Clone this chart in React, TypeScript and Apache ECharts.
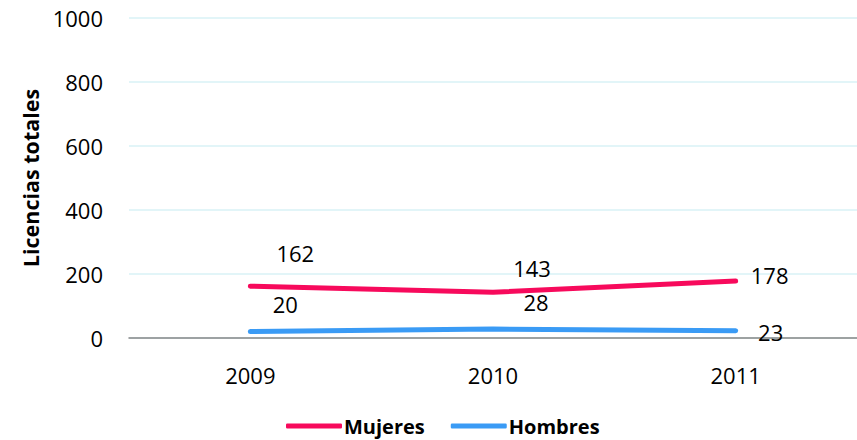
import React, { useEffect, useRef } from "react";
import * as echarts from "echarts";

const categories = ["2009", "2010", "2011"];
const mujeres = [162, 143, 178];
const hombres = [20, 28, 23];
const mujeresLabelOffsets = [[45, -33], [39, -24], [34, -6]];
const hombresLabelOffsets = [[35, -28], [43, -27], [35, 1]];

const FONT = "'Open Sans', 'Liberation Sans', sans-serif";
const PINK = "#F70A5C";
const BLUE = "#3A9BF5";

export default function App() {
  const ref = useRef<HTMLDivElement>(null);
  useEffect(() => {
    document.body.style.margin = "0";
    const chart = echarts.init(ref.current!, undefined, { renderer: "svg" });
    const mk = (vals: number[], offs: number[][]) =>
      vals.map((v, i) => ({
        value: v,
        label: { offset: offs[i] },
      }));
    chart.setOption({
      animation: false,
      backgroundColor: "#fff",
      grid: { left: 129, top: 18, width: 750, bottom: 102, containLabel: false },
      xAxis: {
        type: "category",
        data: categories,
        boundaryGap: true,
        axisLine: { lineStyle: { color: "#868686", width: 1.5 } },
        axisTick: { show: false },
        axisLabel: { color: "#000", fontSize: 22, fontFamily: FONT, margin: 26 },
      },
      yAxis: {
        type: "value",
        min: 0,
        max: 1000,
        interval: 200,
        name: "Licencias totales",
        nameLocation: "middle",
        nameGap: 87,
        nameRotate: 90,
        nameTextStyle: { color: "#000", fontSize: 21.5, fontWeight: "bold", fontFamily: FONT },
        axisLine: { show: false },
        axisTick: { show: false },
        axisLabel: {
          color: "#000",
          fontSize: 22,
          fontFamily: FONT,
          margin: 26,
          formatter: (v: number) => String(v),
        },
        splitLine: { lineStyle: { color: "#D8F2F6", width: 1.5 } },
      },
      legend: {
        left: 281,
        top: 411,
        itemWidth: 56,
        itemHeight: 5,
        itemGap: 26,
        icon: "roundRect",
        textStyle: { color: "#000", fontSize: 20, fontWeight: "bold", fontFamily: FONT, padding: [0, 0, 0, -3] },
        data: ["Mujeres", "Hombres"],
      },
      series: [
        {
          name: "Mujeres",
          type: "line",
          data: mk(mujeres, mujeresLabelOffsets),
          symbol: "circle",
          symbolSize: 1,
          itemStyle: { color: PINK },
          lineStyle: { color: PINK, width: 5, cap: "round" },
          label: { show: true, position: "inside", color: "#000", fontSize: 22, fontFamily: FONT },
        },
        {
          name: "Hombres",
          type: "line",
          data: mk(hombres, hombresLabelOffsets),
          symbol: "circle",
          symbolSize: 1,
          itemStyle: { color: BLUE },
          lineStyle: { color: BLUE, width: 5, cap: "round" },
          label: { show: true, position: "inside", color: "#000", fontSize: 22, fontFamily: FONT },
        },
      ],
    });
    return () => chart.dispose();
  }, []);
  return <div ref={ref} style={{ position: "fixed", left: 0, top: 0, width: 857, height: 440 }} />;
}
